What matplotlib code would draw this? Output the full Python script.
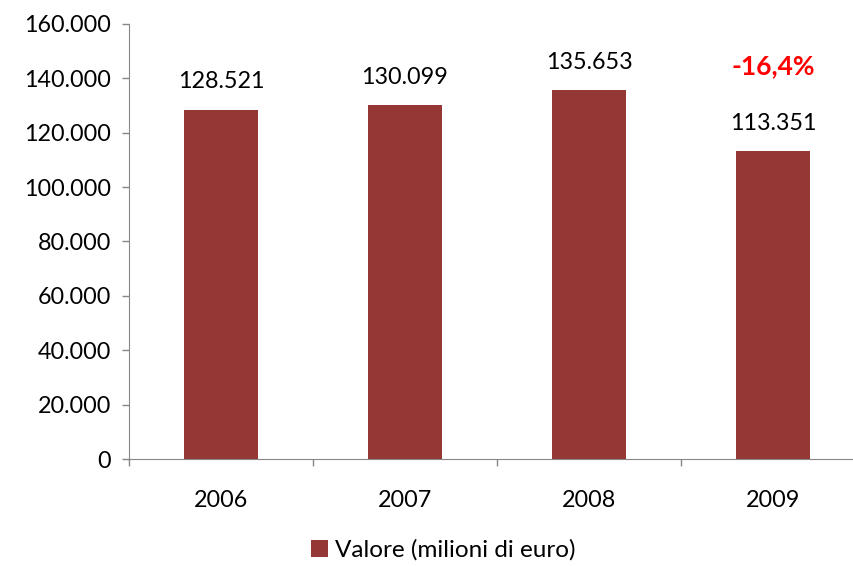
import matplotlib.pyplot as plt
import numpy as np

years = ['2006', '2007', '2008', '2009']
valori = [128521, 130099, 135653, 113351]
value_labels = ['128.521', '130.099', '135.653', '113.351']
var_label = '-16,4%'
yticks = [0, 20000, 40000, 60000, 80000, 100000, 120000, 140000, 160000]
ytick_labels = ['0', '20.000', '40.000', '60.000', '80.000', '100.000', '120.000', '140.000', '160.000']

plt.rcParams['font.family'] = ['Lato', 'DejaVu Sans']

fig = plt.figure(figsize=(8.54, 5.66), dpi=100)
ax = fig.add_axes([129 / 854, 107 / 566, 736 / 854, 435 / 566])

x = np.arange(len(years))
bars = ax.bar(x, valori, width=0.4, color='#953735', label='Valore (milioni di euro)')

for xi, v, lab in zip(x, valori, value_labels):
    ax.annotate(lab, (xi, v), xytext=(0, 20), textcoords='offset points',
                ha='center', va='center', fontsize=16.8, color='black')
ax.annotate(var_label, (x[-1], valori[-1]), xytext=(0, 61), textcoords='offset points',
            ha='center', va='center', fontsize=19, color='#ff0000', fontweight='bold')

ax.set_xlim(-0.5, len(years) - 0.5)
ax.set_ylim(0, 160000)
ax.set_yticks(yticks)
ax.set_yticklabels(ytick_labels, fontsize=16.8)

ax.set_xticks(np.arange(len(years) + 1) - 0.5)
ax.set_xticklabels([])
ax.set_xticks(x, minor=True)
ax.set_xticklabels(years, minor=True, fontsize=16.8)
ax.tick_params(axis='x', which='minor', length=0, pad=22)
ax.tick_params(axis='both', which='major', length=5, color='#868686', width=1)
ax.tick_params(axis='y', pad=8)

for s in ['top', 'right']:
    ax.spines[s].set_visible(False)
for s in ['left', 'bottom']:
    ax.spines[s].set_color('#868686')

fig.legend(handles=[bars], loc='center', bbox_to_anchor=(443 / 854, 1 - 550 / 566),
           frameon=False, fontsize=17.5, handlelength=0.7, handleheight=0.7,
           handletextpad=0.3)

fig.savefig('out.png', dpi=100)
